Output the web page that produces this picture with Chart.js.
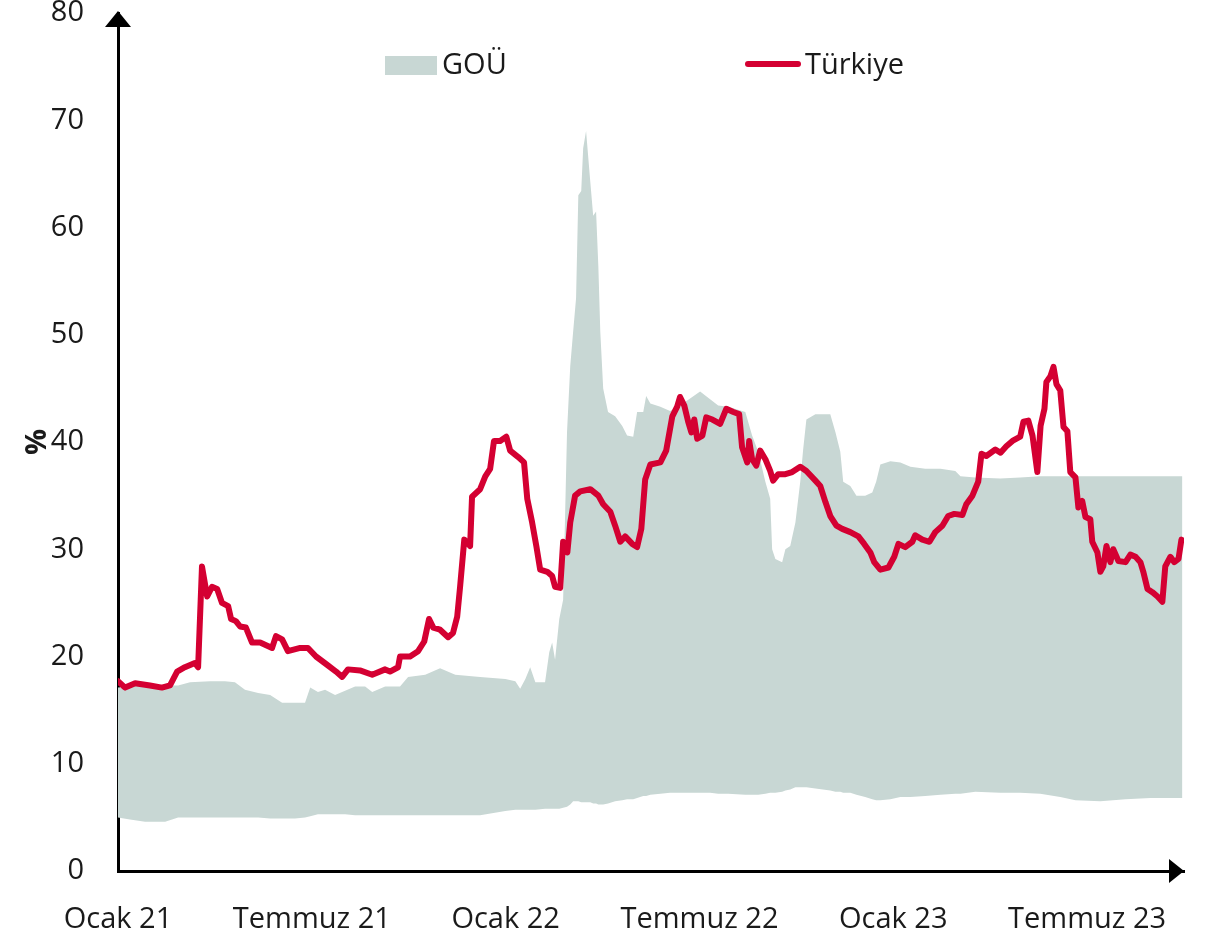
<!DOCTYPE html>
<html>
<head>
<meta charset="utf-8">
<script src="https://cdn.jsdelivr.net/npm/chart.js@4.4.1/dist/chart.umd.min.js"></script>
<style>
  html, body { margin: 0; padding: 0; background: #fff; }
  #wrap { width: 1209px; height: 937px; }
</style>
</head>
<body>
<div id="wrap"><canvas id="chart" width="1209" height="937"></canvas></div>
<script>
/*--Data (x = months since Ocak 2021)--*/
var xTickMonths = [0, 6, 12, 18, 24, 30];
var xTickLabels = ['Ocak 21', 'Temmuz 21', 'Ocak 22', 'Temmuz 22', 'Ocak 23', 'Temmuz 23'];

var turkiyeMonths = [
  0,0.22,0.53,0.99,1.36,1.61,1.83,2.07,2.38,2.48,
  2.60,2.76,2.91,3.07,3.22,3.41,3.50,3.65,3.78,3.96,
  4.15,4.40,4.77,4.89,5.08,5.26,5.64,5.88,6.13,6.44,
  6.75,6.94,7.12,7.49,7.87,8.27,8.42,8.67,8.73,9.04,
  9.29,9.48,9.63,9.76,9.97,10.22,10.37,10.50,10.59,10.72,
  10.90,10.96,11.21,11.37,11.52,11.64,11.83,12.02,12.14,12.39,
  12.57,12.67,12.82,12.95,13.07,13.29,13.44,13.53,13.69,13.78,
  13.91,14.00,14.15,14.31,14.62,14.87,15.02,15.24,15.39,15.55,
  15.70,15.92,16.07,16.20,16.32,16.48,16.79,16.97,17.16,17.31,
  17.40,17.53,17.65,17.75,17.84,17.93,18.09,18.21,18.40,18.64,
  18.83,19.05,19.23,19.32,19.48,19.54,19.63,19.76,19.88,20.04,
  20.19,20.28,20.44,20.66,20.87,21.12,21.31,21.59,21.74,21.90,
  22.05,22.24,22.42,22.67,22.92,23.10,23.29,23.41,23.60,23.85,
  24.03,24.16,24.37,24.59,24.68,24.90,25.12,25.30,25.52,25.70,
  25.89,26.14,26.26,26.45,26.63,26.73,26.88,27.16,27.32,27.50,
  27.69,27.93,28.03,28.18,28.31,28.46,28.56,28.68,28.74,28.86,
  28.96,29.05,29.17,29.27,29.39,29.48,29.64,29.73,29.85,29.95,
  30.10,30.16,30.32,30.41,30.50,30.60,30.72,30.81,30.97,31.19,
  31.34,31.50,31.65,31.74,31.87,32.02,32.18,32.33,32.42,32.58,
  32.70,32.83,32.92
];
var turkiyeValues = [
  17.7,17.1,17.5,17.3,17.1,17.3,18.6,19.0,19.4,19.0,
  28.4,25.6,26.5,26.3,25.0,24.7,23.5,23.3,22.8,22.7,
  21.3,21.3,20.8,21.9,21.6,20.5,20.8,20.8,20.0,19.3,
  18.6,18.1,18.8,18.7,18.3,18.8,18.6,19.0,20.0,20.0,
  20.5,21.4,23.5,22.7,22.5,21.8,22.2,23.7,26.5,30.9,
  30.3,34.9,35.6,36.8,37.5,40.1,40.1,40.5,39.2,38.6,
  38.1,34.7,32.5,30.3,28.1,27.9,27.5,26.5,26.4,30.7,
  29.7,32.5,35.0,35.4,35.6,35.0,34.2,33.5,32.2,30.7,
  31.2,30.5,30.2,31.9,36.5,37.9,38.1,39.2,42.4,43.3,
  44.2,43.4,41.9,40.9,42.1,40.3,40.6,42.3,42.1,41.7,
  43.1,42.8,42.6,39.5,38.1,40.1,38.4,37.8,39.2,38.4,
  37.3,36.4,37.0,37.0,37.2,37.7,37.3,36.4,35.9,34.4,
  33.1,32.2,31.9,31.6,31.2,30.5,29.7,28.8,28.1,28.3,
  29.3,30.5,30.2,30.7,31.3,30.9,30.7,31.6,32.2,33.1,
  33.3,33.2,34.2,35.0,36.3,38.9,38.7,39.3,39.0,39.6,
  40.1,40.5,41.9,42.0,40.6,37.2,41.5,43.1,45.6,46.1,
  47.0,45.4,44.8,41.4,41.0,37.2,36.7,33.9,34.5,33.0,
  32.8,30.7,29.7,27.9,28.4,30.3,28.8,30.0,28.9,28.8,
  29.5,29.3,28.8,27.9,26.3,26.0,25.6,25.1,28.4,29.3,
  28.8,29.1,30.9
];

var bandMonths = [
  0,0.37,0.84,1.46,1.86,2.23,2.85,3.31,3.62,3.93,
  4.34,4.71,5.08,5.48,5.79,5.95,6.19,6.41,6.72,7.03,
  7.34,7.65,7.87,8.27,8.73,8.98,9.51,9.97,10.44,11.21,
  11.99,12.30,12.45,12.61,12.76,12.92,13.22,13.35,13.44,13.53,
  13.66,13.78,13.90,14.00,14.09,14.18,14.25,14.34,14.40,14.49,
  14.62,14.71,14.80,14.87,14.93,15.02,15.17,15.39,15.61,15.76,
  15.95,16.07,16.26,16.35,16.48,16.79,17.09,17.40,18.02,18.33,
  18.58,18.89,19.42,19.63,19.82,20.04,20.19,20.25,20.35,20.56,
  20.66,20.81,20.97,21.12,21.21,21.31,21.59,22.05,22.21,22.36,
  22.45,22.67,22.86,23.13,23.35,23.47,23.60,23.91,24.22,24.53,
  24.99,25.46,25.92,26.08,26.54,27.31,27.93,28.55,29.17,29.64,
  30.41,31.19,31.96,32.95
];
var gouUpper = [
  17.1,17.2,17.4,17.3,17.3,17.6,17.7,17.7,17.6,16.9,
  16.6,16.4,15.7,15.7,15.7,17.1,16.7,16.9,16.4,16.8,
  17.2,17.2,16.7,17.2,17.2,18.1,18.3,18.9,18.3,18.1,
  17.9,17.7,17.0,17.9,19.0,17.6,17.6,20.4,21.3,19.7,
  23.5,25.3,40.9,47.1,50.3,53.4,63.0,63.4,67.4,69.0,
  64.3,61.1,61.5,56.4,50.3,45.0,42.8,42.4,41.5,40.6,
  40.5,42.8,42.8,44.3,43.6,43.3,42.9,43.4,44.7,44.0,
  43.4,43.3,42.8,40.6,39.1,36.3,34.7,30.0,29.1,28.8,
  30.0,30.3,32.5,36.3,39.3,42.1,42.6,42.6,40.9,39.1,
  36.3,35.9,35.0,35.0,35.3,36.3,37.9,38.2,38.1,37.7,
  37.5,37.5,37.3,36.8,36.7,36.6,36.7,36.8,36.8,36.8,
  36.8,36.8,36.8,36.8
];
var gouLower = [
  5.0,4.8,4.6,4.6,5.0,5.0,5.0,5.0,5.0,5.0,
  5.0,4.9,4.9,4.9,5.0,5.1,5.3,5.3,5.3,5.3,
  5.2,5.2,5.2,5.2,5.2,5.2,5.2,5.2,5.2,5.2,
  5.6,5.7,5.7,5.7,5.7,5.7,5.8,5.8,5.8,5.8,
  5.8,5.9,6.0,6.2,6.5,6.5,6.5,6.4,6.4,6.4,
  6.4,6.3,6.3,6.2,6.2,6.2,6.3,6.5,6.6,6.7,
  6.7,6.8,7.0,7.0,7.1,7.2,7.3,7.3,7.3,7.3,
  7.2,7.2,7.1,7.1,7.1,7.2,7.3,7.3,7.3,7.4,
  7.5,7.6,7.8,7.8,7.8,7.8,7.7,7.5,7.4,7.4,
  7.3,7.3,7.1,6.9,6.7,6.6,6.6,6.7,6.9,6.9,
  7.0,7.1,7.2,7.2,7.4,7.3,7.3,7.2,6.9,6.6,
  6.5,6.7,6.8,6.8
];
/*--------*/

var RED = '#d40032';
var BAND = '#c8d7d4';
var FONT = "'Open Sans', 'Noto Sans', sans-serif";
var TXT = '#1a1a1a';

function toPoints(xs, ys) {
  return xs.map(function (x, i) { return { x: x, y: ys[i] }; });
}

/*--Arrows + legend--*/
var decorations = {
  id: 'decorations',
  afterDraw: function (chart) {
    var ctx = chart.ctx, a = chart.chartArea;
    ctx.save();
    ctx.fillStyle = '#000';
    ctx.beginPath();
    ctx.moveTo(a.left, a.top - 2);
    ctx.lineTo(a.left - 13, a.top + 14);
    ctx.lineTo(a.left + 13, a.top + 14);
    ctx.closePath();
    ctx.fill();
    ctx.beginPath();
    ctx.moveTo(a.right, a.bottom);
    ctx.lineTo(a.right - 15, a.bottom - 12);
    ctx.lineTo(a.right - 15, a.bottom + 12);
    ctx.closePath();
    ctx.fill();

    ctx.font = '29px ' + FONT;
    ctx.textBaseline = 'middle';
    ctx.textAlign = 'left';
    ctx.fillStyle = BAND;
    ctx.fillRect(385, 56, 52, 19);
    ctx.fillStyle = TXT;
    ctx.fillText('GOÜ', 442, 66);
    ctx.strokeStyle = RED;
    ctx.lineWidth = 6;
    ctx.lineCap = 'round';
    ctx.beginPath();
    ctx.moveTo(748, 64);
    ctx.lineTo(798, 64);
    ctx.stroke();
    ctx.fillText('Türkiye', 805, 66);
    ctx.restore();
  }
};

function draw() {
  new Chart('chart', {
    type: 'line',
    data: {
      datasets: [
        {
          label: 'Türkiye',
          data: toPoints(turkiyeMonths, turkiyeValues),
          borderColor: RED,
          borderWidth: 6,
          borderJoinStyle: 'round',
          borderCapStyle: 'round',
          pointRadius: 0,
          fill: false,
          tension: 0
        },
        {
          label: 'GOÜ alt',
          data: toPoints(bandMonths, gouLower),
          borderWidth: 0,
          pointRadius: 0,
          fill: false
        },
        {
          label: 'GOÜ',
          data: toPoints(bandMonths, gouUpper),
          borderWidth: 0,
          borderColor: BAND,
          backgroundColor: BAND,
          pointRadius: 0,
          fill: '-1'
        }
      ]
    },
    options: {
      responsive: false,
      animation: false,
      layout: { padding: { top: 13, right: 25, bottom: 0, left: 0 } },
      plugins: {
        legend: { display: false },
        tooltip: { enabled: false }
      },
      scales: {
        x: {
          type: 'linear',
          min: 0,
          max: 33,
          z: 1,
          grid: { display: false, drawTicks: false },
          border: { color: '#000', width: 3 },
          afterBuildTicks: function (scale) {
            scale.ticks = xTickMonths.map(function (v) { return { value: v }; });
          },
          afterFit: function (scale) { scale.height = 66; },
          ticks: {
            autoSkip: false,
            maxRotation: 0,
            padding: 31,
            color: TXT,
            font: { family: FONT, size: 29 },
            callback: function (v) {
              var i = xTickMonths.indexOf(v);
              return i >= 0 ? xTickLabels[i] : '';
            }
          }
        },
        y: {
          min: 0,
          max: 80,
          z: 1,
          // invisible tick marks keep the labels off the axis without adding top padding
          grid: { display: true, drawOnChartArea: false, drawTicks: true, tickLength: 34, color: 'rgba(0,0,0,0)' },
          border: { color: '#000', width: 3 },
          afterFit: function (scale) { scale.width = 118; },
          ticks: {
            stepSize: 10,
            padding: 0,
            color: TXT,
            font: { family: FONT, size: 29, lineHeight: 0.9 }
          },
          title: {
            display: true,
            text: '%',
            color: TXT,
            padding: { top: 20, bottom: 0 },
            font: { family: FONT, size: 29, weight: 'bold' }
          }
        }
      }
    },
    plugins: [decorations]
  });
}

if (document.fonts && document.fonts.load) {
  document.fonts.load("29px 'Open Sans'").then(draw, draw);
} else {
  draw();
}
</script>
</body>
</html>
